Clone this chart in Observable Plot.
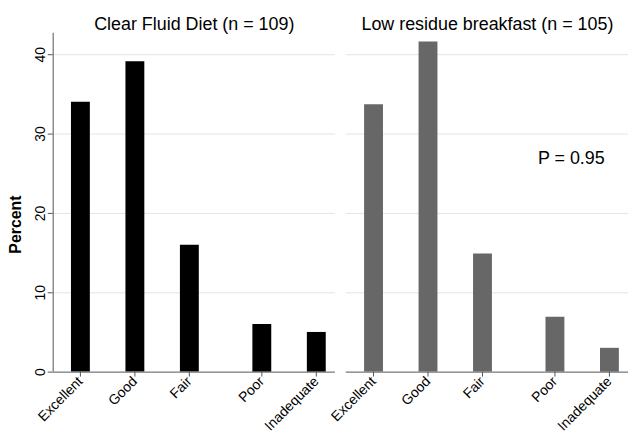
<!DOCTYPE html>
<html><head><meta charset="utf-8">
<script src="https://cdn.jsdelivr.net/npm/d3@7"></script>
<script src="https://cdn.jsdelivr.net/npm/@observablehq/plot@0.6"></script>
<style>
html,body{margin:0;padding:0;background:#fff;overflow:hidden;}
#chart svg{display:block;}
</style></head><body><div id="chart"></div>
<script>
const categories = ["Excellent", "Good", "Fair", "Poor", "Inadequate"];
const categoryPositions = [1, 2, 3, 4.33, 5.33];
const groups = ["Clear Fluid Diet (n = 109)", "Low residue breakfast (n = 105)"];
const clearFluidPct = [34.0, 39.1, 16.0, 6.0, 5.0];
const lowResiduePct = [33.7, 41.6, 14.9, 6.9, 3.0];
const yTicks = [0, 10, 20, 30, 40];
const gridTicks = [10, 20, 30, 40];
const pValueLabel = "P = 0.95";
const pValueAt = {x: 4.63, y: 26.9};
const axisTitle = "Percent";

const rows = [];
groups.forEach((g, gi) => {
  const vals = gi === 0 ? clearFluidPct : lowResiduePct;
  categories.forEach((c, i) => rows.push({group: g, category: c, pos: categoryPositions[i], value: vals[i]}));
});
const xDomain = [0.5, 5.68];
const barColors = ["#000000", "#676767"];

const chart = Plot.plot({
  width: 632, height: 435,
  marginLeft: 53, marginRight: 0, marginTop: 33, marginBottom: 61,
  style: {fontFamily: "'Liberation Sans', Arial, Helvetica, sans-serif", background: "#fff", color: "#000"},
  fx: {domain: groups, paddingInner: 0.038, paddingOuter: 0},
  x: {domain: xDomain},
  y: {domain: [0, 42.7]},
  color: {type: "identity"},
  marks: [
    Plot.gridY({ticks: gridTicks, stroke: "#e4e4e4", strokeOpacity: 1, strokeWidth: 1}),
    Plot.ruleX(rows, {fx: "group", x: "pos", y1: 0, y2: "value", stroke: d => barColors[groups.indexOf(d.group)], strokeWidth: 19}),
    Plot.ruleY([0], {stroke: "#555", strokeWidth: 1}),
    Plot.ruleX([{group: groups[0]}], {fx: "group", x: () => xDomain[0], stroke: "#555", strokeWidth: 1}),
    Plot.axisY({ticks: yTicks, tickRotate: -90, tickSize: 5, tickPadding: 3, fontSize: 14, label: null, stroke: "#555", fill: "#000"}),
    Plot.axisX({ticks: categoryPositions, tickFormat: d => categories[categoryPositions.indexOf(d)], tickRotate: -45, tickSize: 5, tickPadding: 2, fontSize: 14, label: null, stroke: "#555", fill: "#000"}),
    Plot.axisFx({anchor: "top", tickSize: 0, tickPadding: 3, fontSize: 18, label: null}),
    Plot.text([{group: groups[0]}], {fx: "group", text: () => axisTitle, frameAnchor: "left", rotate: -90, dx: -37, dy: 22, fontSize: 16, fontWeight: "bold", textAnchor: "middle", lineAnchor: "middle"}),
    Plot.text([{group: groups[1]}], {fx: "group", x: () => pValueAt.x, y: () => pValueAt.y, text: () => pValueLabel, fontSize: 18, textAnchor: "middle", lineAnchor: "middle"})
  ]
});
document.getElementById("chart").appendChild(chart);
</script>
</body></html>
